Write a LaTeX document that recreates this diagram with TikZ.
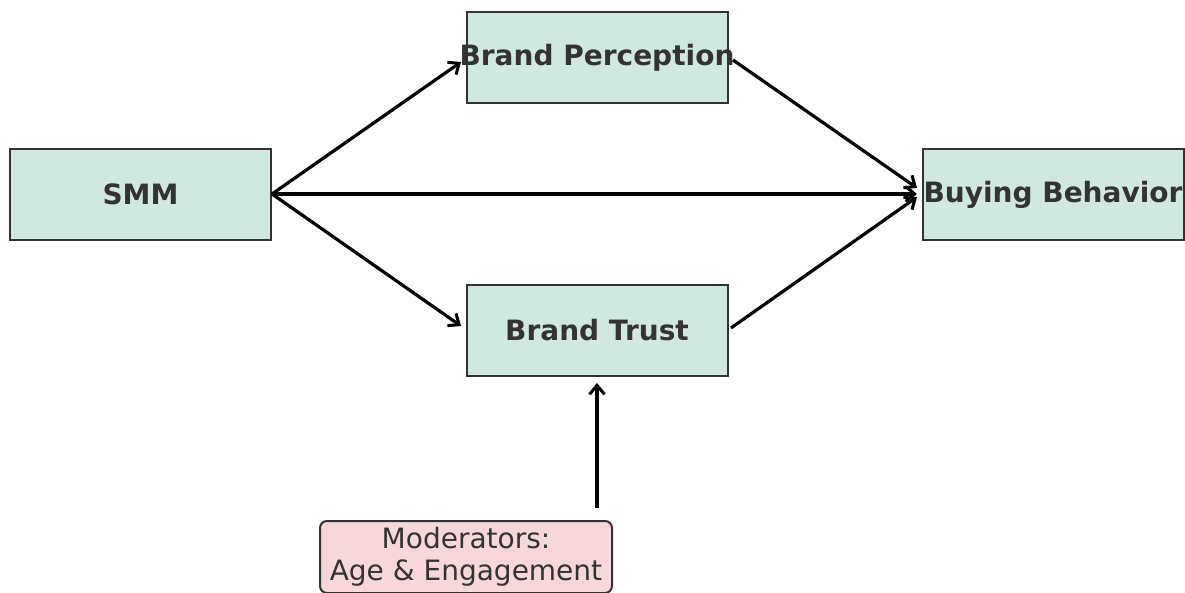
\documentclass[tikz,border=0pt]{standalone}
\usepackage{fontspec}
\setmainfont{DejaVu Sans}
\usetikzlibrary{arrows.meta}
\definecolor{boxgreen}{HTML}{D0E8DF}
\definecolor{boxpink}{HTML}{F8D7DA}
\definecolor{txtgray}{HTML}{333333}
\begin{document}
\begin{tikzpicture}[x=1pt,y=-1pt,
  mainbox/.style={draw=txtgray,line width=2pt,fill=boxgreen,minimum width=261pt,minimum height=91pt,inner sep=0pt,text=txtgray,font=\fontsize{28}{33}\selectfont\bfseries},
  modbox/.style={draw=txtgray,line width=2pt,fill=boxpink,rounded corners=7pt,minimum width=292pt,minimum height=72pt,inner sep=0pt,text=txtgray,align=center,font=\fontsize{28}{32}\selectfont},
  conn/.style={line width=3.2pt,-{Straight Barb[length=9pt,width=15pt,line width=3pt]}}]
\useasboundingbox (0,0) rectangle (1185,593);
\node[mainbox] (smm) at (140.5,194.5) {SMM};
\node[mainbox] (bp) at (597,57.5) {\makebox[0pt]{Brand Perception}};
\node[mainbox] (bt) at (597,330.5) {Brand Trust};
\node[mainbox] (bb) at (1053,194.5) {\makebox[0pt]{Buying Behavior}};
\node[modbox] (mod) at (466,557) {Moderators:\\Age \& Engagement};
\coordinate (s0) at (272,194);
\coordinate (bpin) at (461,62);
\coordinate (btin) at (461,326);
\coordinate (bbin) at (917,194);
\coordinate (bpout) at (733,60);
\coordinate (bbin1) at (917,188);
\coordinate (btout) at (731,328);
\coordinate (bbin2) at (917,197);
\coordinate (modout) at (597,508);
\coordinate (btbot) at (597,383);
\draw[conn] (s0) -- (bpin);
\draw[conn] (s0) -- (bbin);
\draw[conn] (s0) -- (btin);
\draw[conn] (bpout) -- (bbin1);
\draw[conn] (btout) -- (bbin2);
\draw[conn] (modout) -- (btbot);
\end{tikzpicture}
\end{document}
